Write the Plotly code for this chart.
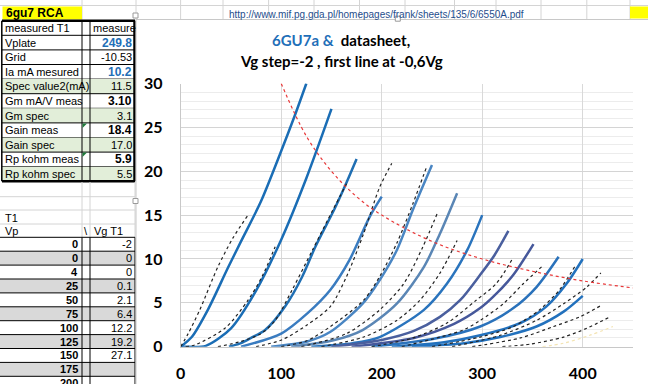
import plotly.graph_objects as go

W, H = 648, 384

# ---------------- chart data (Vp in V, Ia in mA) ----------------
# measured 6GU7 curves (solid blue)
c1_vp = [0, 11, 27, 47, 60, 80, 100, 114, 125]
c1_ia = [0, 1.1, 4.2, 9.0, 12.0, 16.6, 22.3, 26.5, 30]
table_vp = [0, 0, 4, 25, 50, 75, 100, 125, 150, 175, 200]
table_ia = ["-2", "0", "0", "0.1", "2.1", "6.4", "12.2", "19.2", "27.1", "", ""]
c2_vp = [0, 4, 25, 50, 75, 100, 125, 150]
c2_ia = [0, 0, 0.1, 2.1, 6.4, 12.2, 19.2, 27.1]
c3_vp = [48, 60, 70, 84, 104, 121, 134, 153, 163, 175]
c3_ia = [0, 0.4, 1.0, 1.9, 4.6, 8.0, 11.4, 15.7, 18.2, 21.4]
c4_vp = [60, 100, 126, 149, 168, 188, 200]
c4_ia = [0, 1.5, 3.8, 6.5, 9.9, 14.8, 17.1]
c5_vp = [90, 126, 149, 181, 198, 215, 231, 250]
c5_ia = [0, 0.6, 1.7, 4.9, 7.6, 11.0, 15.6, 20.7]
c6_vp = [110, 151, 181, 215, 242, 258, 275]
c6_ia = [0, 0.7, 1.9, 4.9, 9.1, 12.9, 17.5]
c7_vp = [130, 171, 198, 242, 265, 285, 300]
c7_ia = [0, 0.4, 1.1, 4.2, 7.2, 11.0, 15.0]
c8_vp = [150, 201, 232, 258, 278, 298, 312, 326]
c8_ia = [0, 0.8, 1.8, 3.4, 5.3, 8.2, 10.4, 13.2]
c9_vp = [170, 232, 272, 298, 311, 331, 351]
c9_ia = [0, 1.0, 2.6, 4.4, 5.7, 8.2, 11.7]
c10_vp = [190, 252, 298, 331, 354, 376]
c10_ia = [0, 0.9, 2.3, 4.4, 6.8, 10.25]
c11_vp = [210, 262, 298, 338, 364, 384, 400]
c11_ia = [0, 0.5, 1.3, 2.7, 4.6, 7.2, 10.0]
c12_vp = [230, 282, 318, 354, 381, 400]
c12_ia = [0, 0.4, 1.1, 2.3, 4.0, 5.8]

# datasheet curves (black dashed)
d1_vp = [0, 7.5, 19, 37, 52, 67]
d1_ia = [0, 1.5, 4.2, 9.1, 12.4, 15]
d2_vp = [5, 14, 44, 67, 81, 94]
d2_ia = [0, 0.2, 2.1, 5.3, 8.0, 11.4]
d3_vp = [37, 60, 80, 94, 111, 131, 151, 166]
d3_ia = [0, 0.6, 1.5, 3.0, 6.5, 11, 15.5, 18.8]
d4_vp = [75, 101, 126, 149, 165, 182, 198, 210]
d4_ia = [0, 0.8, 2.5, 4.6, 8.0, 12.9, 18.2, 20.9]
d5_vp = [100, 126, 149, 182, 198, 215, 231, 245]
d5_ia = [0, 0.7, 2.3, 5.3, 8.0, 11.8, 16.3, 20.6]
d6_vp = [120, 165, 198, 222, 241, 256]
d6_ia = [0, 1.5, 4.2, 7.2, 11.4, 15.4]
d7_vp = [140, 182, 215, 238, 258, 275]
d7_ia = [0, 1.1, 3.0, 5.3, 8.4, 12.1]
d8_vp = [190, 231, 265, 294, 314, 331]
d8_ia = [0, 1.0, 2.7, 5.3, 7.2, 10.2]
d9_vp = [220, 281, 298, 321, 341, 359]
d9_ia = [0, 1.9, 3.0, 4.9, 7.2, 9.1]
d10_vp = [250, 298, 331, 357, 377, 393]
d10_ia = [0, 1.1, 2.3, 4.2, 6.5, 9.3]
d11_vp = [270, 318, 354, 381, 404, 418]
d11_ia = [0, 1.3, 3.0, 4.9, 6.8, 8.4]
d12_vp = [290, 338, 371, 397, 419]
d12_ia = [0, 1.0, 2.3, 3.4, 4.75]
d13_vp = [320, 348, 381, 404, 427]
d13_ia = [0, 0.3, 1.1, 2.1, 3.4]
faint_vp = [360, 381, 407, 430]
faint_ia = [0, 0.4, 1.3, 2.3]

# max dissipation (red dashed)
pmax_vp = [100, 125, 150, 175, 200, 250, 300, 350, 400, 450]
pmax_ia = [30, 24, 20, 17.1, 15, 12, 10, 8.6, 7.5, 6.7]

x_ticks = [0, 100, 200, 300, 400]
y_ticks = [0, 5, 10, 15, 20, 25, 30]

# spreadsheet content
param_labels = ["measured T1", "Vplate", "Grid", "Ia mA mesured", "Spec value2(mA)",
                "Gm mA/V meas", "Gm spec", "Gain meas", "Gain spec",
                "Rp kohm meas", "Rp kohm spec"]
param_values = ["measure", "249.8", "-10.53", "10.2", "11.5", "3.10", "3.1",
                "18.4", "17.0", "5.9", "5.5"]
url_text = "http://www.mif.pg.gda.pl/homepages/frank/sheets/135/6/6550A.pdf"

measured = [(c1_vp, c1_ia), (c2_vp, c2_ia), (c3_vp, c3_ia), (c4_vp, c4_ia),
            (c5_vp, c5_ia), (c6_vp, c6_ia), (c7_vp, c7_ia), (c8_vp, c8_ia),
            (c9_vp, c9_ia), (c10_vp, c10_ia), (c11_vp, c11_ia), (c12_vp, c12_ia)]
measured_colors = ["#1a6db5", "#1a6db5", "#206fb3", "#3a7cc0", "#4a86c3", "#5a86b5",
                   "#2a74bd", "#4a5f9e", "#46589b", "#2a72bb", "#2271bd", "#2271bd"]
datasheet = [(d1_vp, d1_ia), (d2_vp, d2_ia), (d3_vp, d3_ia), (d4_vp, d4_ia),
             (d5_vp, d5_ia), (d6_vp, d6_ia), (d7_vp, d7_ia), (d8_vp, d8_ia),
             (d9_vp, d9_ia), (d10_vp, d10_ia), (d11_vp, d11_ia), (d12_vp, d12_ia),
             (d13_vp, d13_ia)]

fig = go.Figure()
for (vx, vy), col in zip(measured, measured_colors):
    fig.add_trace(go.Scatter(x=vx, y=vy, mode="lines", hoverinfo="skip", showlegend=False,
                             line=dict(color=col, width=2.5, shape="spline", smoothing=0.8)))
for vx, vy in datasheet:
    fig.add_trace(go.Scatter(x=vx, y=vy, mode="lines", hoverinfo="skip", showlegend=False,
                             line=dict(color="#222222", width=1.2, dash="3px,3px",
                                       shape="spline", smoothing=0.8)))
fig.add_trace(go.Scatter(x=faint_vp, y=faint_ia, mode="lines", hoverinfo="skip", showlegend=False,
                         line=dict(color="#f3e3b0", width=1.2, dash="3px,3px", shape="spline")))
fig.add_trace(go.Scatter(x=pmax_vp, y=pmax_ia, mode="lines", hoverinfo="skip", showlegend=False,
                         line=dict(color="#e8393a", width=1.2, dash="3px,3px", shape="spline")))

# ---------------- helpers for the spreadsheet surroundings ----------------
def X(p):
    return p / W

def Y(p):
    return 1 - p / H

shapes = []
annots = []

def rect(x0, y0, x1, y1, fill, line_color=None, lw=0):
    shapes.append(dict(type="rect", xref="paper", yref="paper",
                       x0=X(x0), x1=X(x1), y0=Y(y1), y1=Y(y0), fillcolor=fill,
                       line=dict(color=line_color or "rgba(0,0,0,0)", width=lw), layer="above"))

def hline(x0, x1, y, color, lw=1):
    shapes.append(dict(type="line", xref="paper", yref="paper", x0=X(x0), x1=X(x1),
                       y0=Y(y), y1=Y(y), line=dict(color=color, width=lw), layer="above"))

def vline(x, y0, y1, color, lw=1):
    shapes.append(dict(type="line", xref="paper", yref="paper", x0=X(x), x1=X(x),
                       y0=Y(y0), y1=Y(y1), line=dict(color=color, width=lw), layer="above"))

def text(x, y, s, anchor="left", size=11, color="#000000", bold=False, family="Liberation Sans"):
    annots.append(dict(x=X(x), y=Y(y), xref="paper", yref="paper",
                       text=f"<b>{s}</b>" if bold else s, showarrow=False,
                       xanchor=anchor, yanchor="middle", borderpad=0,
                       font=dict(size=size, color=color, family=family)))

GRID = "#d4d4d4"

# top spreadsheet row
hline(0, W, 5.5, GRID)
for cx in [82, 136, 180.6, 223, 268.6, 314, 359.5, 405, 454.5, 496, 541, 586.8, 630]:
    vline(cx, 0, 19.5, GRID)
rect(2.5, 6.5, 82, 19.5, "#ffff00")
text(5, 13.2, "6gu7 RCA", size=12, bold=True)
rect(630, 6.5, W, 18.5, "#ffff00")
text(228, 14, url_text, size=10, color="#1f4e8c")

# parameter table
row0, rh = 20.7, 14.6
green_rows = {4, 6, 8, 10}
blue_vals = {1, 3}
bold_vals = {1, 3, 5, 7, 9}
for k, (lab, val) in enumerate(zip(param_labels, param_values)):
    y0 = row0 + k * rh
    y1 = y0 + rh
    if k in green_rows:
        rect(2, y0, 135, y1, "#e2eed9")
    hline(2, 135, y1, "#000000", 1)
    yc = (y0 + y1) / 2
    text(4, yc, lab, size=11)
    if k == 0:
        text(92, yc, val, size=11)
    else:
        text(133, yc, val, anchor="right", size=12 if k in bold_vals else 11,
             color="#1f6fb8" if k in blue_vals else "#000000", bold=k in bold_vals)
hline(2, 135, row0, "#000000", 2.5)
hline(2, 135, row0 + 11 * rh, "#000000", 2.5)
vline(1.8, row0, row0 + 11 * rh, "#000000", 1.5)
vline(82, row0, row0 + 11 * rh, "#000000", 1)
vline(90, row0, row0 + 11 * rh, "#000000", 1)
vline(134.5, row0, row0 + 11 * rh, "#000000", 2.5)
for k in (7, 9):
    y0 = row0 + k * rh
    shapes.append(dict(type="path", xref="paper", yref="paper", layer="above",
                       path=f"M {X(82.5)},{Y(y0 + 0.5)} L {X(87)},{Y(y0 + 0.5)} L {X(82.5)},{Y(y0 + 5)} Z",
                       fillcolor="#1e7a3a", line=dict(width=0)))

# empty rows and headers
for gy in [196.7, 210, 224]:
    hline(0, 135, gy, GRID)
for gx in [82, 90, 135]:
    vline(gx, 182, 237.3, GRID)
text(4, 217.5, "T1", size=11)
text(4, 231, "Vp", size=11)
text(83, 231, "\\", size=11)
text(93, 231, "Vg T1", size=11)

# data table
trow0, trh = 237.3, 13.9
for k, (vp, ia) in enumerate(zip(table_vp, table_ia)):
    y0 = trow0 + k * trh
    y1 = y0 + trh
    if k % 2 == 1:
        rect(0, y0, 135, y1, "#d9d9d9")
    hline(0, 135, y0, "#000000", 1)
    yc = (y0 + y1) / 2
    text(79, yc, str(vp), anchor="right", size=11, bold=True)
    if ia:
        text(133, yc, ia, anchor="right", size=11)
for gx in [82, 90, 135]:
    vline(gx, trow0, H, "#000000", 1)

# chart frame and selection handles
vline(136, 19.5, H, "#c8c8c8", 1)
hline(136, W, 19.5, "#c8c8c8", 1)
for hx, hy in [(135.5, 15.5), (397.8, 18.7), (135.5, 201)]:
    rect(hx - 2.5, hy - 2.5, hx + 2.5, hy + 2.5, "#ffffff", "#9a9a9a", 1)

# chart title
annots.append(dict(x=X(341), y=Y(40), xref="paper", yref="paper", showarrow=False,
                   xanchor="center", yanchor="middle",
                   text="<b><span style='color:#1f6fb8'>6GU7a &amp;</span>  datasheet,</b>",
                   font=dict(family="Lato", size=15, color="#000000")))
annots.append(dict(x=X(341), y=Y(61), xref="paper", yref="paper", showarrow=False,
                   xanchor="center", yanchor="middle",
                   text="<b>Vg step=-2 , first line at -0,6Vg</b>",
                   font=dict(family="Lato", size=15, color="#000000")))

fig.update_layout(
    width=W, height=H, autosize=False,
    margin=dict(l=0, r=0, t=0, b=0, pad=0, autoexpand=False),
    paper_bgcolor="#ffffff", plot_bgcolor="#ffffff",
    shapes=shapes, annotations=annots,
    xaxis=dict(domain=[180.7 / W, 633.0 / W], range=[0, 450], tickvals=x_ticks,
               automargin=False,
               showgrid=True, gridcolor="#d9d9d9", gridwidth=1, zeroline=False,
               showline=True, linecolor="#c8c8c8", linewidth=1, ticks="",
               ticklabelstandoff=12,
               tickfont=dict(family="Lato", size=16, color="#000000", weight="bold")),
    yaxis=dict(domain=[1 - 346.7 / H, 1 - 83.5 / H], range=[0, 30], tickvals=y_ticks,
               automargin=False,
               showgrid=True, gridcolor="#d4d4d4", gridwidth=1, zeroline=False,
               showline=True, linecolor="#c8c8c8", linewidth=1, ticks="",
               ticklabelstandoff=14,
               minor=dict(dtick=1, showgrid=True, gridcolor="#ececec", gridwidth=1),
               tickfont=dict(family="Lato", size=16, color="#000000", weight="bold")),
)

fig.write_html("out.html", config={"displayModeBar": False},
               post_script="document.body.style.margin='0';document.body.style.overflow='hidden';")
